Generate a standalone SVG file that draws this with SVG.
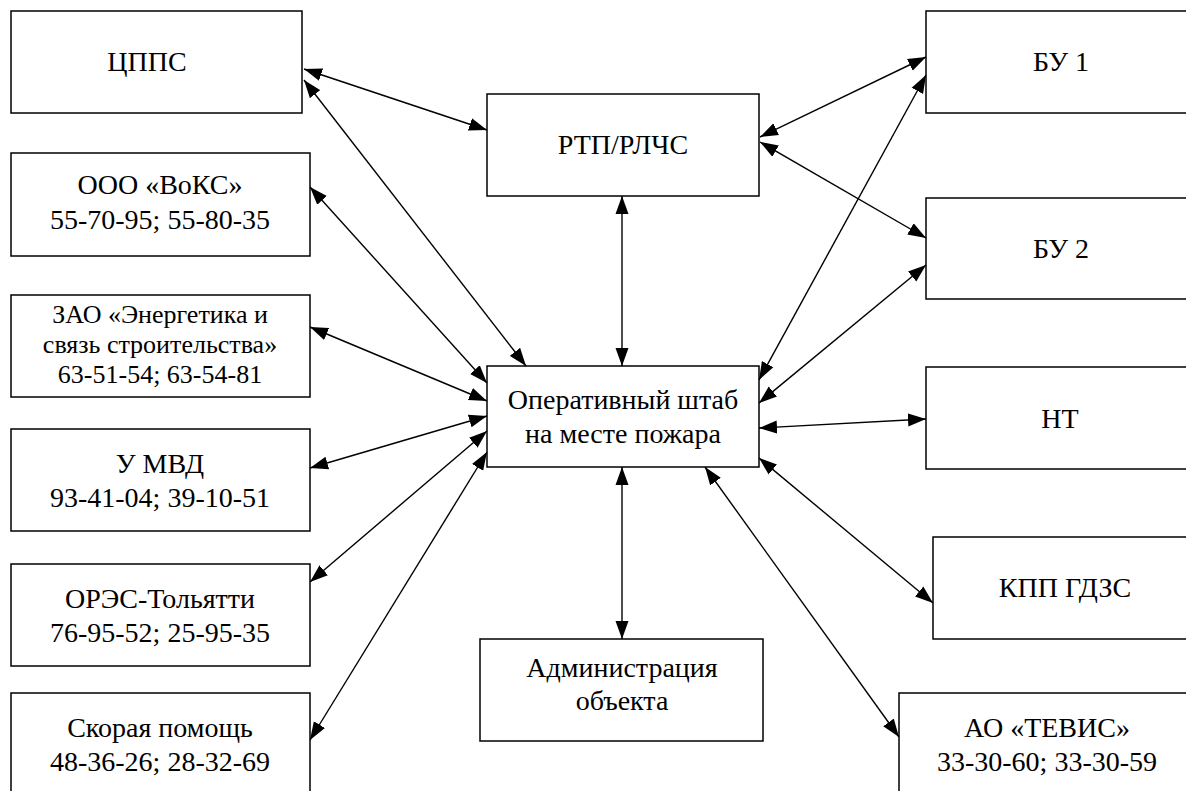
<svg xmlns="http://www.w3.org/2000/svg" width="1186" height="791" viewBox="0 0 1186 791">
<defs>
<marker id="ah" markerUnits="userSpaceOnUse" markerWidth="19" markerHeight="14" refX="18" refY="6.5" orient="auto-start-reverse" viewBox="0 0 19 13">
<path d="M0,0 L18,6.5 L0,13 z" fill="#000"/>
</marker>
<style>
.box{fill:#fff;stroke:#000;stroke-width:1.5}
#conn line{stroke:#000;stroke-width:1.4;marker-start:url(#ah);marker-end:url(#ah)}
</style>
</defs>
<rect x="0" y="0" width="1186" height="791" fill="#fff" stroke="none"/>
<g font-family="'Liberation Serif', 'Times New Roman', serif" font-size="28" text-anchor="middle" fill="#000">
<g id="cpps"><rect class="box" x="11" y="11" width="291" height="102"/><text x="147" y="71">ЦППС</text></g>
<g id="voks"><rect class="box" x="11" y="153" width="299" height="103"/><text x="160" y="194">ООО «ВоКС»</text><text x="160" y="229">55-70-95; 55-80-35</text></g>
<g id="zao" font-size="26"><rect class="box" x="11" y="295" width="299" height="102"/><text x="160" y="323">ЗАО «Энергетика и</text><text x="160" y="353">связь строительства»</text><text x="160" y="383">63-51-54; 63-54-81</text></g>
<g id="mvd"><rect class="box" x="11" y="429" width="299" height="102"/><text x="160" y="473">У МВД</text><text x="160" y="507">93-41-04; 39-10-51</text></g>
<g id="ores"><rect class="box" x="11" y="564" width="299" height="102"/><text x="160" y="608">ОРЭС-Тольятти</text><text x="160" y="642">76-95-52; 25-95-35</text></g>
<g id="skoraya"><rect class="box" x="11" y="693" width="299" height="110"/><text x="160" y="737">Скорая помощь</text><text x="160" y="771">48-36-26; 28-32-69</text></g>
<g id="rtp"><rect class="box" x="487" y="94" width="272" height="102"/><text x="623" y="154">РТП/РЛЧС</text></g>
<g id="shtab"><rect class="box" x="487" y="366" width="272" height="101"/><text x="623" y="409">Оперативный штаб</text><text x="623" y="443">на месте пожара</text></g>
<g id="admin"><rect class="box" x="480" y="639" width="283" height="102"/><text x="622" y="677">Администрация</text><text x="622" y="710">объекта</text></g>
<g id="bu1"><rect class="box" x="926" y="11" width="280" height="102"/><text x="1061" y="71">БУ 1</text></g>
<g id="bu2"><rect class="box" x="926" y="198" width="280" height="101"/><text x="1061" y="258">БУ 2</text></g>
<g id="nt"><rect class="box" x="926" y="367" width="280" height="102"/><text x="1060" y="428">НТ</text></g>
<g id="kpp"><rect class="box" x="933" y="537" width="280" height="102"/><text x="1065" y="597">КПП ГДЗС</text></g>
<g id="tevis"><rect class="box" x="899" y="693" width="300" height="110"/><text x="1047" y="737">АО «ТЕВИС»</text><text x="1047" y="771">33-30-60; 33-30-59</text></g>
</g>
<g id="conn">
<line x1="304" y1="69" x2="487" y2="130"/>
<line x1="304" y1="80" x2="526" y2="366"/>
<line x1="310" y1="187" x2="487" y2="383"/>
<line x1="310" y1="327" x2="487" y2="401"/>
<line x1="310" y1="468" x2="487" y2="416"/>
<line x1="310" y1="582" x2="487" y2="431"/>
<line x1="310" y1="740" x2="487" y2="452"/>
<line x1="622" y1="196" x2="622" y2="366"/>
<line x1="622" y1="467" x2="622" y2="639"/>
<line x1="760" y1="137" x2="926" y2="57"/>
<line x1="760" y1="142" x2="926" y2="238"/>
<line x1="759" y1="380" x2="926" y2="75"/>
<line x1="759" y1="403" x2="926" y2="265"/>
<line x1="759" y1="428" x2="926" y2="419"/>
<line x1="759" y1="458" x2="933" y2="603"/>
<line x1="705" y1="467" x2="899" y2="737"/>
</g>
</svg>
